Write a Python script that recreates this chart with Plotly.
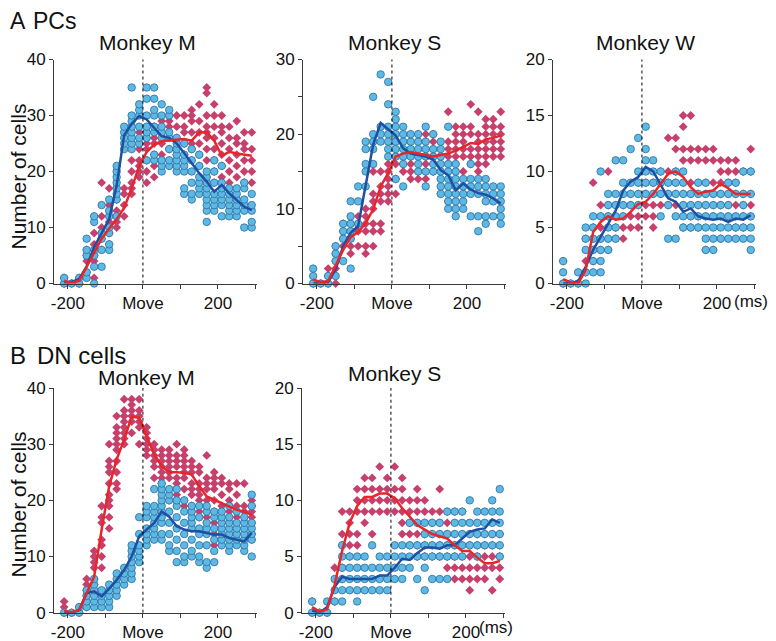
import plotly.graph_objects as go

# ---------------- data ----------------
time_ms = [-210 + 20 * i for i in range(26)]
x_tick_vals = [-200, -100, 0, 100, 200, 300]
x_tick_text = ["-200", "", "Move", "", "200", ""]

# A: PCs, Monkey M
pcM_blue = [[0,1],[0],[0,1],[1,2,5,6,8],[0,3,5,6,11,12],[3,6,8,9,14],[6,7,9,10,12,13,15],
            [12,15,16,17,18,19,20,21],[24,25,26,27,28],[24,25,26,27,28,29,30,35],[25,26,28,30,31,32],
            [22,26,27,28,30,33,35],[22,23,27,28,30,31,33,35],[20,21,22,26,27,28,30,32],[21,22,24,26,27,30,31],
            [20,21,22,23,24,25,26],[16,17,20,21,22,23,25],[15,16,18,20,22,24],[16,17,18,19,21,23],
            [11,13,14,15,16,17,18,19,20],[13,14,15,16,18,20,22],[12,14,15,16,17,18,21],[12,13,14,15,16,17],
            [12,13,14,15,16,17],[10,13,14,15,17,18],[10,11,13,14,16]]
pcM_red = [[0,1],[0],[0,1],[2,4,5,6],[1,4,5,6,7,9,12],[6,8,10,12,18],[7,9,10,11,12,14,17],[10,11,12,13,15,17],
           [12,14,16,17],[16,17,18,20,22],[19,20,21,22,24,26,27],[18,20,22,24,25,26,27],[19,21,23,25,26,28],
           [21,22,23,25,27,29],[21,22,24,26,28,29,30],[21,23,24,26,28,30],[22,23,25,27,28,30],
           [22,24,25,27,29,30,31],[21,23,25,27,29,32],[19,22,24,26,27,28,30,34,35],[18,20,22,24,26,28,30,32],
           [19,21,23,25,27,28,30],[18,20,22,24,26,28],[19,21,23,25,26,29],[18,20,22,24,25,27],[18,20,22,24,27]]
pcM_blue_mean = [0.2,0.3,0.8,3,6.5,9,11.5,17.5,26.5,28.5,29.9,29.3,27.8,26.3,26,25,23.3,21.5,19.7,18.2,16.4,17.6,16.1,14.9,13.7,13.1]
pcM_red_mean = [0.5,0.1,0.5,3,5.5,8,9.8,11.5,13.5,17,21,23.5,24.8,25.4,25.6,25.7,25.8,25.5,27,27,25.5,22.8,23.5,23.2,23,22.8]

# A: PCs, Monkey S
pcS_blue = [[0,1,2],[0],[0,1],[1,3,4,5],[3,6,7,8],[2,6,7,8,9,11],[8,11,13],[13,15,16,18,19],[16,18,19,20,25],
            [19,20,21,28],[17,18,19,20,21,24,27],[14,17,18,19,20,21,22,23],[13,16,17,18,19,20,21],[17,18,19,20],
            [15,16,17,18,19,20],[13,15,17,18,19,21],[15,16,17,18,20],[12,13,14,15,16,17,18,19],
            [10,11,12,13,14,15,16,21],[9,10,11,12,13,14,15,16],[10,11,12,13,14],[9,12,13,14,16],[7,9,12,13,14],
            [8,9,11,12,13,14],[9,11,12,13],[8,9,10,11,12,13]]
pcS_red = [[0],[0],[0,1,2],[0,2,3,4,5],[5,6,7,8],[4,5,6,7,8],[5,7,8,9],[4,5,7,8,9,10],[5,7,8,10,11,12,15],
           [7,8,11,12,13,15],[11,12,13,14,15,16],[12,14,16,17,18,19,20],[15,16,17,18,19,20],[14,15,16,17,18,19,20],
           [14,15,17,18,19,20],[14,15,16,17,18,19,20],[15,16,17,18,19,20],[12,14,15,16,17,18],[11,13,16,17,18,19,23],
           [13,15,17,18,19,20,21],[12,15,17,18,19,20,21],[16,17,18,20,21,24],[15,16,17,18,19,20,23],
           [16,17,18,19,20,21,22],[17,18,19,20,21,22],[17,18,19,20,21,23]]
pcS_blue_mean = [0,0,0.2,1.9,5,6.8,7.7,13.4,18.6,21.5,20.6,19.8,18.1,17.4,17.2,17,16.6,15.2,14.5,12.5,13.4,12.6,12.1,11.9,11.4,10.7]
pcS_red_mean = [0.5,0.2,0.3,2.3,4.5,6.2,6.9,8.1,9.9,13,14.8,17,17.4,17.6,17.4,17.2,17,17.2,17.4,17.8,18.3,18.8,18.7,19.3,19.5,19.8]

# A: PCs, Monkey W
pcW_blue = [[0,1,2],[0],[0,1],[0,1,3,4,5],[1,2,3,4,5,6],[1,2,3,4,6,10],[3,4,5,6,7,8],[4,5,6,7,8,11],
            [6,7,8,9,11],[7,8,9,12],[7,8,9,10,13],[8,9,10,11,12,14],[8,9,10,11],[6,8,9,10],[4,7,8,9],
            [4,6,8,9,10],[5,6,7,8,9,10],[5,6,7,8],[5,6,7,8,9],[3,4,5,6,7,8,9],[3,4,5,6,7,8],[4,5,6,7,8],
            [4,5,6,7,8,9],[4,5,6,8,9],[4,5,6,7,8,10],[3,4,5,6,8,10]]
pcW_red = [[0,2],[0],[0],[1,2,4],[2,3,4,5,9],[3,4,5,6,7],[3,4,6,7,10],[4,5,6,7],[4,5,6,7,8],[5,6,7,8],
           [5,6,7,8,9],[6,7,8,9],[5,6,7,8,9],[7,8,9,10],[7,8,9,10,13],[7,8,9,10,12,13],[5,7,8,9,11,12,14,15],
           [5,6,7,8,9,11,12,15],[5,6,7,8,9,11,12],[3,6,7,8,9,11,12],[3,6,7,8,9,11,12],[4,6,7,8,9,10,11],
           [6,7,8,9,10,11],[5,6,7,8,9,10,11],[5,6,7,8,10],[6,7,8,10,12]]
pcW_blue_mean = [0,0,0.2,1.5,3,4.2,5.4,6.5,8.3,9.1,9.5,10.4,10,8.8,7.6,7.3,6.4,6.7,6,5.8,5.7,5.8,5.5,5.8,5.7,6.1]
pcW_red_mean = [0.4,0.1,0,1.2,4.6,5.5,6,5.7,5.8,6.4,7.1,7.3,8,8.9,9.8,10,9.5,8.6,8,8.2,8.3,8.9,8.5,8,8,8]

# B: DN cells, Monkey M
dnM_blue = [[0],[0],[0,1],[1,2,3,4],[1,2,3,4,5,6],[1,2,3,4],[1,2,3,4,5],[3,4,5,6,7],[5,6,7,8],
            [6,7,8,9,10,11,12],[9,10,11,12,14,17],[12,13,14,15,17,18,19],[13,14,15,16,17,18,19,22],
            [13,14,16,17,18,19,20,21,22,23],[11,12,14,16,18,20,21,22],[9,11,13,15,17,19,20,22],
            [9,10,12,14,16,18,20],[10,11,13,15,16,17,18,19],[9,10,12,14,15,17,19],[8,9,12,14,15,16,18,19],
            [9,11,13,15,17,18],[12,13,14,15,16,17,18],[11,12,13,14,15,16,17,19],[12,13,14,15,16,18],
            [11,12,13,14,15,16,17],[10,13,14,15,16,19,21]]
dnM_red = [[0,1,2],[0],[0,1],[1,2,3,4,5,6],[2,4,5,6,8,9,10,11],[8,10,12,13,16,17,19],
           [15,17,19,20,21,23,25,26,27,30],[22,23,25,27,29,30,31,32,33,35],[30,31,32,33,34,35,36,38],
           [32,34,35,36,37,38],[30,33,34,35,36,38],[28,29,30,31,32,33],[24,26,27,28,29,30],
           [22,23,24,25,26,27,28,29],[20,22,24,25,26,27,28,29],[20,21,23,24,26,27,28,30],
           [19,20,22,24,25,26,27,28,29],[18,19,21,22,23,25,26,27],[17,18,19,20,21,22,23,25,26],
           [16,17,18,20,22,23,24,28],[12,14,15,16,17,18,20,22,23,24,25],[12,14,16,18,19,21,23,24],
           [13,14,15,17,18,20,22,23],[13,14,15,16,17,19,21,23],[13,14,15,16,17,18,19,23],[13,14,16,17,18,19,20]]
dnM_blue_mean = [0,0,0.5,3.5,3.8,2.9,4.3,5.8,7.6,10,13.6,14.8,16,18,17.1,15.4,14.8,14.5,14.5,14.2,13.9,13.9,13.3,13,12.7,14.2]
dnM_red_mean = [0.3,0.1,0.5,3.5,6.4,14.8,22.5,27.3,30.8,34.9,34.7,31.4,28.2,26.1,25,25,24.9,24.6,22.5,20.7,20.1,19.5,18.9,18.3,18,17.4]

# B: DN cells, Monkey S
dnS_blue = [[0,1],[0],[0,1],[1,2,3],[1,2,3,4,5,6],[2,3,4,5],[1,2,3,4,5],[2,3,4,5],[2,3,4,6],[2,3,4,5],
            [2,3,4,5],[3,4,5,6],[3,4,5,6],[4,5,6,8],[3,5,6,8],[2,4,5,6,7,8],[3,5,6,7,8],[3,5,6,7,8],
            [3,5,6,7,9],[5,6,7,8,9],[5,6,7,8,9],[6,7,8,10],[5,6,7,8,9],[6,7,8,9],[6,7,8,9,10],[5,6,7,8,9,11]]
dnS_red = [[0,1],[0],[0],[1,4],[3,4,6,7,9],[5,6,7,8,9],[6,7,9,10,11],[8,9,10,11,12],[7,9,10,11,12],
           [9,10,11,13],[9,10,11,12],[9,10,11,13],[7,8,9,10,11,12],[6,7,8,9,10],[5,6,7,8,9,10,11],
           [5,6,7,8,9,10],[5,6,7,8,9],[5,6,7,8,9,11],[4,5,6,7,8,9],[3,4,5,6,7,9],[3,4,5,6,7,9],
           [2,3,4,5,6,7],[3,4,5,6,7],[3,4,5,6,7],[2,4,5,6,7],[3,4,5,6,7]]
dnS_blue_mean = [0.2,0,0.5,2.3,3.2,3,3,3,3,3.3,3.3,4,4.8,4.7,5.3,5.8,5.8,5.7,6,6,6.6,7.2,7.4,7.5,8.3,8.0]
dnS_red_mean = [0.5,0.1,0.3,2.5,5.5,8,9.5,10.3,10.3,10.6,10.6,10.2,9.3,8.5,7.8,7.4,7,6.8,6.6,6,5.5,5.5,4.9,4.4,4.4,4.6]

# ---------------- styling ----------------
OFF = 8                 # page body margin in the browser
FIG_W, FIG_H = 768, 633
FONT = "Arial, Liberation Sans, Helvetica, sans-serif"
BLUE_FILL, BLUE_EDGE, BLUE_LINE = "#5DB9E3", "#2B6E9F", "#1E4FA3"
RED_FILL, RED_LINE = "#C6406B", "#E8262A"
AXC = "#3a3a3a"

def px_x(px):
    return (px - OFF) / FIG_W

def px_y(py):
    return 1 - (py - OFF) / FIG_H

panels = [
    ("pcM", pcM_blue, pcM_red, pcM_blue_mean, pcM_red_mean, 40, 10, None, (54, 257), (283.5, 59.5)),
    ("pcS", pcS_blue, pcS_red, pcS_blue_mean, pcS_red_mean, 30, 10, 5, (303, 506), (283.5, 59.5)),
    ("pcW", pcW_blue, pcW_red, pcW_blue_mean, pcW_red_mean, 20, 5, None, (553, 756), (283.5, 59.5)),
    ("dnM", dnM_blue, dnM_red, dnM_blue_mean, dnM_red_mean, 40, 10, None, (54, 257), (612.7, 388)),
    ("dnS", dnS_blue, dnS_red, dnS_blue_mean, dnS_red_mean, 20, 5, None, (302, 505), (612.7, 388)),
]

fig = go.Figure()
layout = dict(
    width=FIG_W, height=FIG_H, margin=dict(l=0, r=0, t=0, b=0, autoexpand=False),
    paper_bgcolor="white", plot_bgcolor="white", showlegend=False,
    font=dict(family=FONT, size=17, color="#111"),
)
shapes = []

def expand(cols):
    xs, ys = [], []
    for t, vals in zip(time_ms, cols):
        for v in vals:
            xs.append(t)
            ys.append(v)
    return xs, ys

for i, (name, blue, red, bmean, rmean, ymax, dtick, minor, xd, yd) in enumerate(panels, start=1):
    xa = "x" if i == 1 else f"x{i}"
    ya = "y" if i == 1 else f"y{i}"
    rx, ry = expand(red)
    bx, by = expand(blue)
    fig.add_trace(go.Scatter(x=rx, y=ry, mode="markers", xaxis=xa, yaxis=ya, cliponaxis=False,
                             marker=dict(symbol="diamond", size=6.8, color=RED_FILL,
                                         line=dict(width=0))))
    fig.add_trace(go.Scatter(x=bx, y=by, mode="markers", xaxis=xa, yaxis=ya, cliponaxis=False,
                             marker=dict(symbol="circle", size=7.5, color=BLUE_FILL,
                                         line=dict(width=0.8, color=BLUE_EDGE))))
    fig.add_trace(go.Scatter(x=time_ms, y=bmean, mode="lines", xaxis=xa, yaxis=ya, cliponaxis=False,
                             line=dict(color=BLUE_LINE, width=2.5)))
    fig.add_trace(go.Scatter(x=time_ms, y=rmean, mode="lines", xaxis=xa, yaxis=ya, cliponaxis=False,
                             line=dict(color=RED_LINE, width=2.5)))
    xkey = "xaxis" if i == 1 else f"xaxis{i}"
    ykey = "yaxis" if i == 1 else f"yaxis{i}"
    layout[xkey] = dict(domain=[px_x(xd[0]), px_x(xd[1])], anchor=ya, range=[-237, 304],
                        showline=True, linecolor=AXC, linewidth=1, ticks="outside", ticklen=4,
                        tickcolor=AXC, tickvals=x_tick_vals, ticktext=x_tick_text,
                        showgrid=False, zeroline=False, tickfont=dict(size=17, color="#111"))
    ydict = dict(domain=[px_y(yd[0]), px_y(yd[1])], anchor=xa, range=[0, ymax], dtick=dtick,
                 showline=True, linecolor=AXC, linewidth=1, ticks="outside", ticklen=4,
                 tickcolor=AXC, showgrid=False, zeroline=False, tickfont=dict(size=17, color="#111"))
    if minor:
        ydict["minor"] = dict(dtick=minor, ticks="outside", ticklen=4, tickcolor=AXC)
    layout[ykey] = ydict
    shapes.append(dict(type="line", xref=xa, yref=f"{ya} domain", x0=0, x1=0, y0=0, y1=1,
                       line=dict(color="black", width=1, dash="dot")))

annotations = []

def ann(text, xpx, ypx, size, xanchor="center", angle=0):
    annotations.append(dict(text=text, x=px_x(xpx), y=px_y(ypx), xref="paper", yref="paper",
                            xanchor=xanchor, yanchor="middle", showarrow=False, textangle=angle,
                            font=dict(family=FONT, size=size, color="#111")))

ann("A", 8, 21, 23, "left")
ann("PCs", 31, 21, 23, "left")
ann("B", 8, 355, 24, "left")
ann("DN cells", 35, 355, 24, "left")
ann("Monkey M", 147, 43, 21)
ann("Monkey S", 394, 43, 21)
ann("Monkey W", 645, 43, 21)
ann("Monkey M", 146, 377, 21)
ann("Monkey S", 394, 373, 21)
ann("Number of cells", 17.5, 177, 21, angle=-90)
ann("Number of cells", 17.5, 505, 21, angle=-90)
ann("(ms)", 751, 301, 17)
ann("(ms)", 496, 627, 17)

layout["shapes"] = shapes
layout["annotations"] = annotations
fig.update_layout(**layout)
fig.write_html("out.html")
